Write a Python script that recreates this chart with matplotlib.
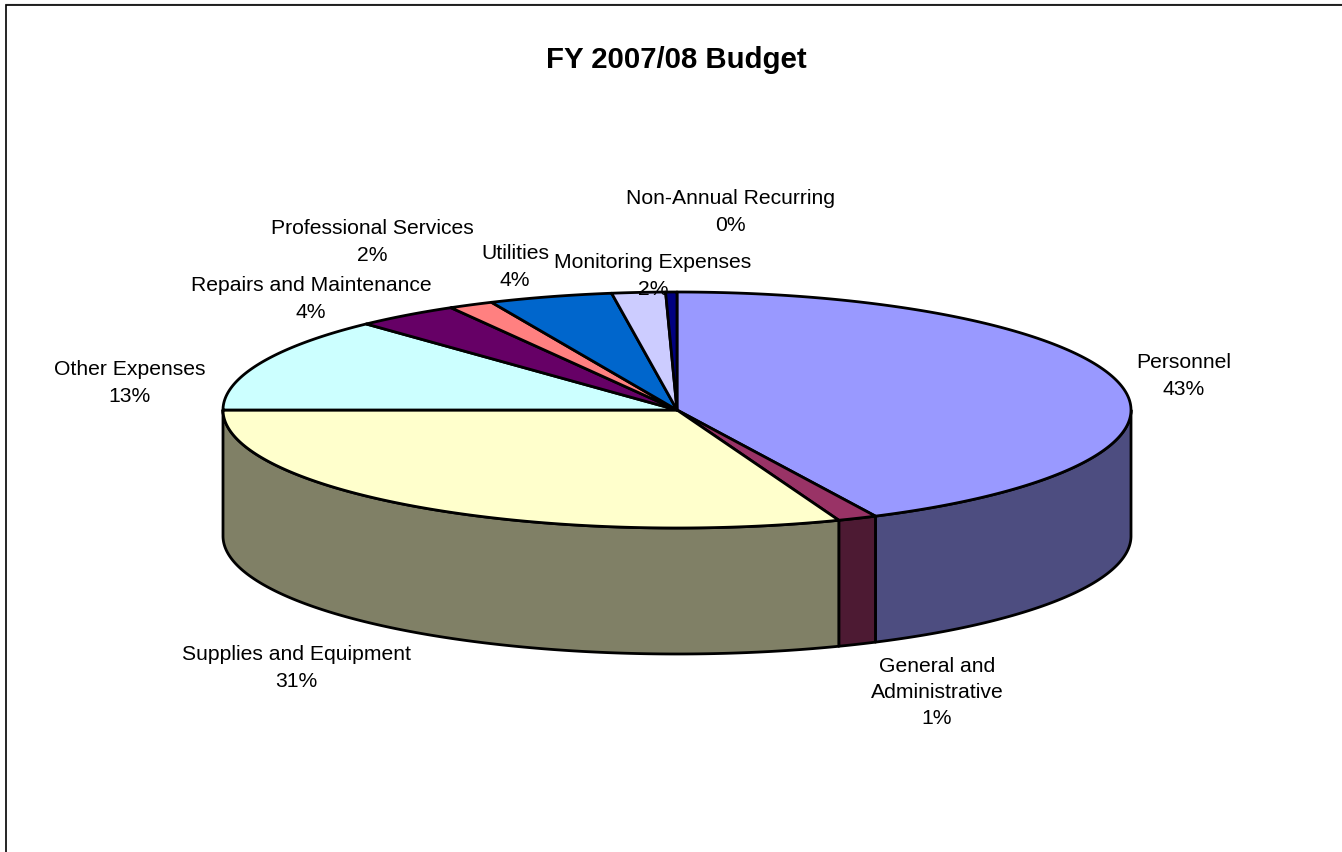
import matplotlib
matplotlib.use("Agg")
import matplotlib.pyplot as plt
from matplotlib.patches import Polygon
import numpy as np

plt.rcParams['font.family'] = ['Liberation Sans', 'DejaVu Sans']

#	Chart data
categories = ["Personnel", "General and\nAdministrative", "Supplies and Equipment", "Other Expenses",
	"Repairs and Maintenance", "Professional Services", "Utilities", "Monitoring Expenses", "Non-Annual Recurring"]
values = [42.8, 1.4, 30.8, 13.0, 3.7, 1.6, 4.4, 1.9, 0.4]
topColors = ["#9999FF", "#993366", "#FFFFCC", "#CCFFFF", "#660066", "#FF8080", "#0066CC", "#CCCCFF", "#000080"]
sideColors = ["#4D4D80", "#4D1A33", "#808066", "#668080", "#330033", "#804040", "#003366", "#666680", "#000040"]

#	Label anchors, pixel centre of each label
labelPos = [(1184, 376), (937, 692.5), (296, 668), (130, 383), (311, 299), (372, 242), (515, 267), (653, 276), (730, 212)]

#	Pie geometry in pixels
cx, cy = 677, 410
rx, ry = 454, 118
depth = 126


#	Point on the top ellipse, angle clockwise from 12 o'clock in degrees
def rim(deg):
	rad = np.radians(deg)
	return cx + rx * np.sin(rad), cy - ry * np.cos(rad)


def main():
	fig = plt.figure(figsize=(13.42, 8.52), dpi=100)
	ax = fig.add_axes([0, 0, 1, 1])
	ax.set_xlim(0, 1342)
	ax.set_ylim(852, 0)
	ax.axis("off")

#	Chart border, only top and left show
	ax.plot([5, 1342], [3.5, 3.5], color="#bbbbbb", lw=1.0, solid_capstyle="butt")
	ax.plot([5.5, 5.5, 1342], [852, 5, 5], color="black", lw=1.2, solid_joinstyle="miter")

	ends = np.cumsum(values) / sum(values) * 360
	starts = np.concatenate(([0], ends[:-1]))

#	Side walls, only the front half of the pie is visible
	for a, b, col in zip(starts, ends, sideColors):
		lo, hi = max(a, 90), min(b, 270)
		if hi <= lo:
			continue
		arc = np.linspace(lo, hi, 200)
		x, y = rim(arc)
		xy = np.concatenate((np.column_stack((x, y)), np.column_stack((x, y + depth))[::-1]))
		ax.add_patch(Polygon(xy, closed=True, fc=col, ec="black", lw=2.0, joinstyle="round", zorder=2))

#	Top face
	for a, b, col in zip(starts, ends, topColors):
		arc = np.linspace(a, b, 300)
		x, y = rim(arc)
		xy = np.vstack(([cx, cy], np.column_stack((x, y))))
		ax.add_patch(Polygon(xy, closed=True, fc=col, ec="black", lw=2.0, joinstyle="round", zorder=3))

#	Labels
	for name, val, (lx, ly) in zip(categories, values, labelPos):
		ax.text(lx, ly, "%s\n%d%%" % (name, round(val)), ha="center", va="center", fontsize=15.2,
			linespacing=1.5, color="black", zorder=5)

	ax.text(676, 60, "FY 2007/08 Budget", ha="center", va="center", fontsize=21.2, fontweight="bold", color="black")

	fig.savefig("out.png", dpi=100, facecolor="white")


main()
